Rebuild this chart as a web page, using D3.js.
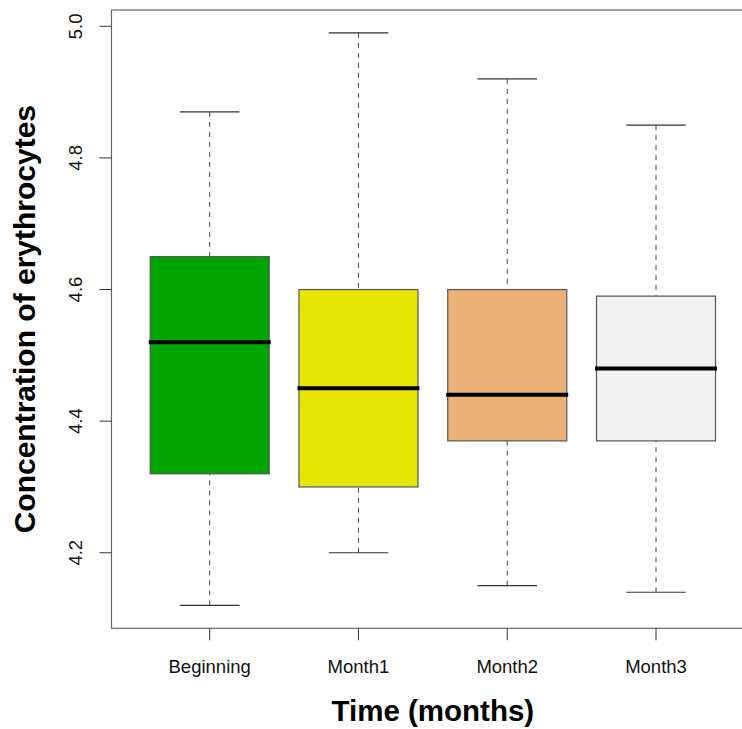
<!doctype html>
<html lang="en">
    <head>
        <meta charset="utf-8">
        <script src="https://d3js.org/d3.v7.min.js"></script>
        <style>
            body { margin: 0; background: #fff; }
            text { font-family: "Liberation Sans", Arial, sans-serif; }
        </style>
    </head>
    <body>
        <div id="my_dataviz"></div>
        <script>
            // Groups and their five-number summaries
            var groups   = ["Beginning", "Month1", "Month2", "Month3"]
            var lowWhisk = [4.12, 4.20, 4.15, 4.14]
            var q1       = [4.32, 4.30, 4.37, 4.37]
            var medians  = [4.52, 4.45, 4.44, 4.48]
            var q3       = [4.65, 4.60, 4.60, 4.59]
            var upWhisk  = [4.87, 4.99, 4.92, 4.85]
            var fills    = ["#00A600", "#E6E600", "#ECB176", "#F2F2F2"]
            var yTicks   = [4.2, 4.4, 4.6, 4.8, 5.0]

            var width = 742
            var height = 729

            var svg = d3.select("#my_dataviz")
                .append("svg")
                .attr("width", width)
                .attr("height", height)

            // plot region like R's boxplot (4% padding on both axes)
            var pLeft = 111.5, pRight = 754.2, pTop = 10, pBottom = 628.3
            var x = d3.scaleLinear().domain([0.34, 4.66]).range([pLeft, pRight])
            var y = d3.scaleLinear().domain([4.0852, 5.0248]).range([pBottom, pTop])

            var data = groups.map(function(g, i) {
                return { name: g, pos: i + 1, lo: lowWhisk[i], q1: q1[i], med: medians[i],
                         q3: q3[i], hi: upWhisk[i], fill: fills[i] }
            })

            // frame (right side runs off the picture)
            svg.append("rect")
                .attr("x", pLeft).attr("y", pTop)
                .attr("width", pRight - pLeft).attr("height", pBottom - pTop)
                .attr("fill", "none")
                .attr("stroke", "#666")
                .attr("stroke-width", 1.2)

            var boxes = svg.append("g").selectAll("g")
                .data(data)
                .enter()
                .append("g")

            // dashed whiskers
            boxes.append("line")
                .attr("x1", function(d){ return x(d.pos) }).attr("x2", function(d){ return x(d.pos) })
                .attr("y1", function(d){ return y(d.hi) }).attr("y2", function(d){ return y(d.q3) })
                .attr("stroke", "#444").attr("stroke-dasharray", "5,5")
            boxes.append("line")
                .attr("x1", function(d){ return x(d.pos) }).attr("x2", function(d){ return x(d.pos) })
                .attr("y1", function(d){ return y(d.lo) }).attr("y2", function(d){ return y(d.q1) })
                .attr("stroke", "#444").attr("stroke-dasharray", "5,5")

            // caps
            boxes.selectAll(".cap")
                .data(function(d){ return [[d.pos, d.hi], [d.pos, d.lo]] })
                .enter()
                .append("line")
                .attr("x1", function(d){ return x(d[0] - 0.2) })
                .attr("x2", function(d){ return x(d[0] + 0.2) })
                .attr("y1", function(d){ return y(d[1]) })
                .attr("y2", function(d){ return y(d[1]) })
                .attr("stroke", "#333")
                .attr("stroke-width", 1.2)

            // boxes
            boxes.append("rect")
                .attr("x", function(d){ return x(d.pos - 0.4) })
                .attr("width", function(d){ return x(d.pos + 0.4) - x(d.pos - 0.4) })
                .attr("y", function(d){ return y(d.q3) })
                .attr("height", function(d){ return y(d.q1) - y(d.q3) })
                .attr("fill", function(d){ return d.fill })
                .attr("stroke", "#555")
                .attr("stroke-width", 1.2)

            // medians
            boxes.append("line")
                .attr("x1", function(d){ return x(d.pos - 0.41) })
                .attr("x2", function(d){ return x(d.pos + 0.41) })
                .attr("y1", function(d){ return y(d.med) })
                .attr("y2", function(d){ return y(d.med) })
                .attr("stroke", "#000")
                .attr("stroke-width", 4)

            // y axis
            var yAxis = svg.append("g")
            yAxis.selectAll("line")
                .data(yTicks)
                .enter()
                .append("line")
                .attr("x1", pLeft - 12).attr("x2", pLeft)
                .attr("y1", function(d){ return y(d) }).attr("y2", function(d){ return y(d) })
                .attr("stroke", "#333")
            yAxis.selectAll("text")
                .data(yTicks)
                .enter()
                .append("text")
                .attr("transform", function(d){ return "translate(82," + y(d) + ") rotate(-90)" })
                .attr("text-anchor", "middle")
                .style("font-size", "18.5px")
                .attr("fill", "#111")
                .text(function(d){ return d3.format(".1f")(d) })

            // x axis
            var xAxis = svg.append("g")
            xAxis.selectAll("line")
                .data(data)
                .enter()
                .append("line")
                .attr("x1", function(d){ return x(d.pos) }).attr("x2", function(d){ return x(d.pos) })
                .attr("y1", pBottom).attr("y2", pBottom + 12)
                .attr("stroke", "#333")
            xAxis.selectAll("text")
                .data(data)
                .enter()
                .append("text")
                .attr("x", function(d){ return x(d.pos) })
                .attr("y", 673)
                .attr("text-anchor", "middle")
                .style("font-size", "18.5px")
                .attr("fill", "#111")
                .text(function(d){ return d.name })

            // axis titles
            svg.append("text")
                .attr("x", (pLeft + pRight) / 2)
                .attr("y", 721)
                .attr("text-anchor", "middle")
                .style("font-size", "29.5px")
                .style("font-weight", "bold")
                .text("Time (months)")

            svg.append("text")
                .attr("transform", "translate(35," + (pTop + pBottom) / 2 + ") rotate(-90)")
                .attr("text-anchor", "middle")
                .style("font-size", "30px")
                .style("font-weight", "bold")
                .text("Concentration of erythrocytes")
        </script>
    </body>
</html>
